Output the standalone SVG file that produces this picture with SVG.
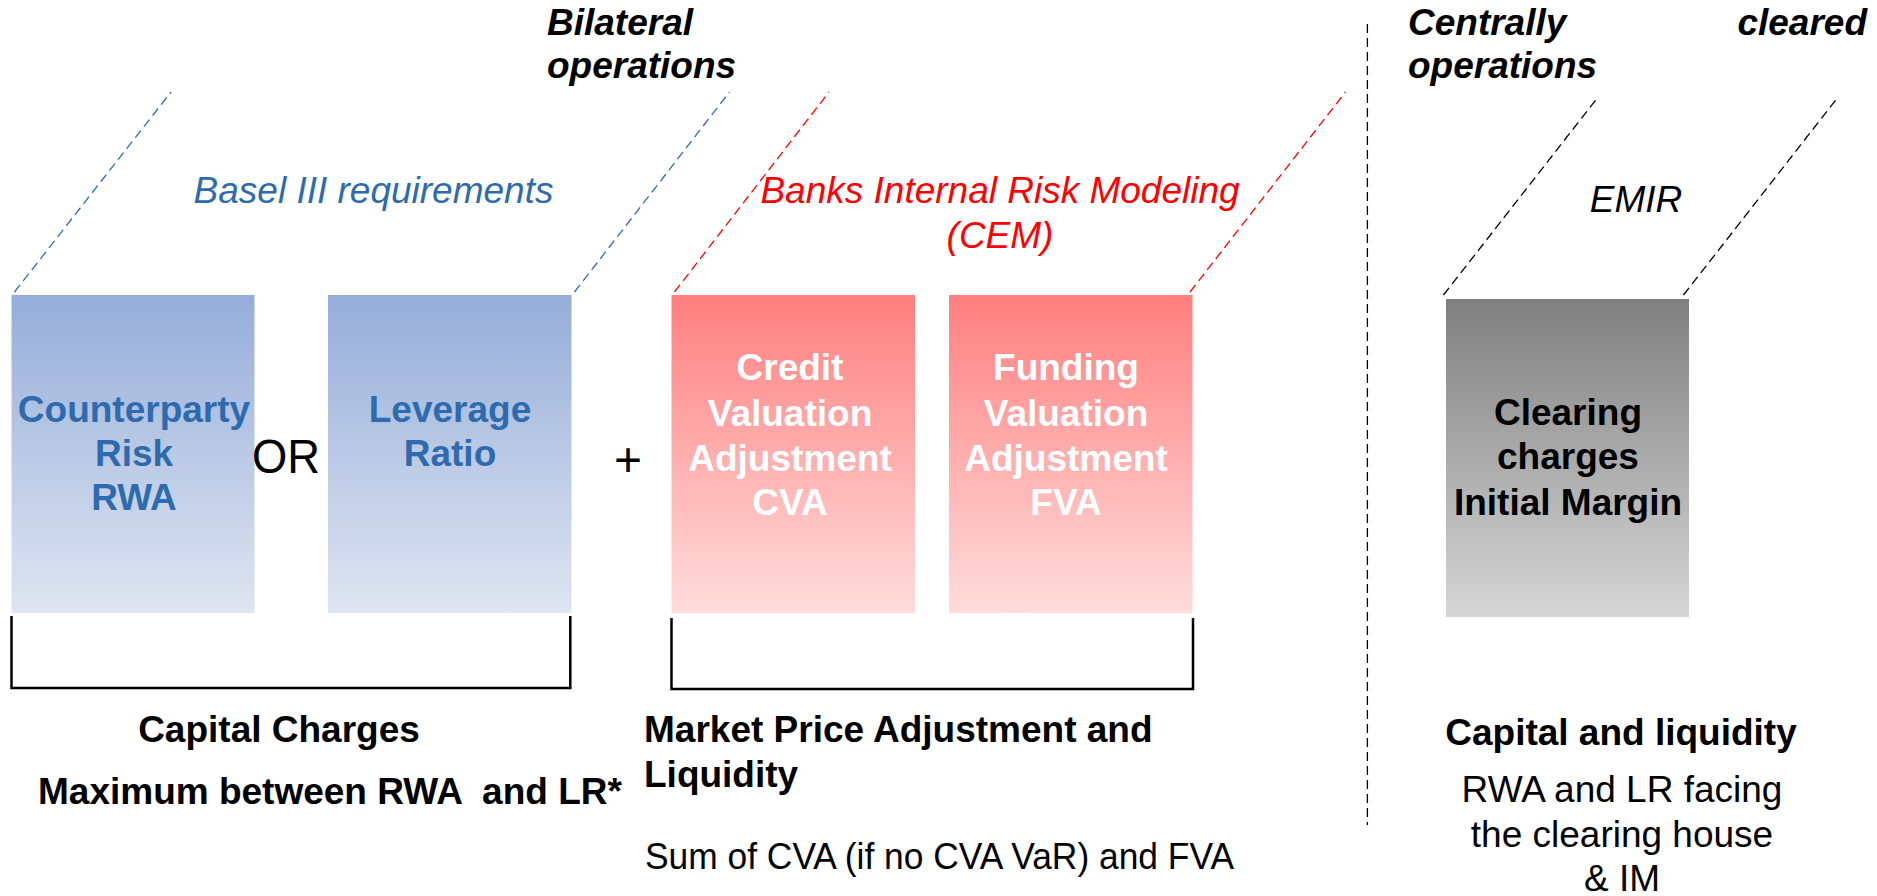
<svg xmlns="http://www.w3.org/2000/svg" width="1877" height="896" viewBox="0 0 1877 896">
<defs>
<linearGradient id="gBlue" x1="0" y1="0" x2="0" y2="1"><stop offset="0" stop-color="#95add9"/><stop offset="1" stop-color="#dfe5f1"/></linearGradient>
<linearGradient id="gRed" x1="0" y1="0" x2="0" y2="1"><stop offset="0" stop-color="#ff7f7f"/><stop offset="1" stop-color="#ffdcdc"/></linearGradient>
<linearGradient id="gGrey" x1="0" y1="0" x2="0" y2="1"><stop offset="0" stop-color="#7f7f7f"/><stop offset="1" stop-color="#d6d6d6"/></linearGradient>
<style>
text{font-family:"Liberation Sans",Arial,sans-serif;font-size:37px}
.b{font-weight:bold}
.i{font-style:italic}
.c{text-anchor:middle}
.blue{fill:#2e6bae}
.white{fill:#ffffff}
.big{font-size:48px}
.sum{font-size:36px}
.dash{fill:none;stroke-width:1.3;stroke-dasharray:9 5}
.brk{fill:none;stroke:#000;stroke-width:2.5}
</style>
</defs>
<rect width="1877" height="896" fill="#fff"/>

<g id="connectors">
<line class="dash" stroke="#2e6bae" x1="14.5" y1="292" x2="171" y2="92"/>
<line class="dash" stroke="#2e6bae" x1="574.5" y1="292" x2="729.5" y2="92"/>
<line class="dash" stroke="#ff0000" x1="674.5" y1="292" x2="829" y2="92"/>
<line class="dash" stroke="#ff0000" x1="1190" y1="292" x2="1345.5" y2="92"/>
<line class="dash" stroke="#000" x1="1443.5" y1="295" x2="1598.5" y2="96.5"/>
<line class="dash" stroke="#000" x1="1683.5" y1="295" x2="1838.5" y2="96.5"/>
<line class="dash" stroke="#000" x1="1367.4" y1="24" x2="1367.4" y2="825" stroke-dasharray="10 4.5"/>
<polyline class="brk" points="11.5,616 11.5,688 570.3,688 570.3,616"/>
<polyline class="brk" points="671.5,618 671.5,689 1193,689 1193,618"/>
</g>

<g id="title-bilateral">
<text class="b i" x="547" y="35">Bilateral</text>
<text class="b i" x="547" y="78">operations</text>
</g>
<g id="title-central">
<text class="b i" x="1408" y="35">Centrally</text>
<text class="b i" x="1867" y="35" text-anchor="end">cleared</text>
<text class="b i" x="1408" y="78">operations</text>
</g>

<g id="label-basel"><text class="i c blue" x="373.5" y="203">Basel III requirements</text></g>
<g id="label-banks">
<text class="i c" fill="#ff0000" x="1000" y="203">Banks Internal Risk Modeling</text>
<text class="i c" fill="#ff0000" x="1000" y="248">(CEM)</text>
</g>
<g id="label-emir"><text class="i c" x="1636" y="212">EMIR</text></g>

<g id="node-counterparty">
<rect x="11.5" y="295" width="243" height="318" fill="url(#gBlue)"/>
<text class="b c blue" x="134" y="422">Counterparty</text>
<text class="b c blue" x="134" y="466">Risk</text>
<text class="b c blue" x="134" y="510">RWA</text>
</g>
<g id="op-or"><text class="big" x="252" y="472.5" textLength="68" lengthAdjust="spacingAndGlyphs">OR</text></g>
<g id="node-leverage">
<rect x="328" y="295" width="243.5" height="318" fill="url(#gBlue)"/>
<text class="b c blue" x="450" y="422">Leverage</text>
<text class="b c blue" x="450" y="466">Ratio</text>
</g>
<g id="op-plus"><text class="c big" x="628" y="476">+</text></g>
<g id="node-cva">
<rect x="671.5" y="295" width="243.5" height="318" fill="url(#gRed)"/>
<text class="b c white" x="790" y="380">Credit</text>
<text class="b c white" x="790" y="425.5">Valuation</text>
<text class="b c white" x="790" y="470.5">Adjustment</text>
<text class="b c white" x="790" y="515">CVA</text>
</g>
<g id="node-fva">
<rect x="949" y="295" width="243.5" height="318" fill="url(#gRed)"/>
<text class="b c white" x="1066" y="380">Funding</text>
<text class="b c white" x="1066" y="425.5">Valuation</text>
<text class="b c white" x="1066" y="470.5">Adjustment</text>
<text class="b c white" x="1066" y="515">FVA</text>
</g>
<g id="node-clearing">
<rect x="1446" y="299" width="243" height="318" fill="url(#gGrey)"/>
<text class="b c" x="1568" y="425">Clearing</text>
<text class="b c" x="1568" y="469">charges</text>
<text class="b c" x="1568" y="515">Initial Margin</text>
</g>

<g id="caption-capital">
<text class="b c" x="279" y="742">Capital Charges</text>
<text class="b" x="38" y="804" xml:space="preserve">Maximum between RWA  and LR*</text>
</g>
<g id="caption-market">
<text class="b" x="644" y="742">Market Price Adjustment and</text>
<text class="b" x="644" y="787">Liquidity</text>
<text class="sum" x="645" y="869" textLength="589" lengthAdjust="spacingAndGlyphs">Sum of CVA (if no CVA VaR) and FVA</text>
</g>
<g id="caption-central">
<text class="b c" x="1621" y="745">Capital and liquidity</text>
<text class="c" x="1622" y="802">RWA and LR facing</text>
<text class="c" x="1622" y="847">the clearing house</text>
<text class="c" x="1622" y="891">&amp; IM</text>
</g>
</svg>
